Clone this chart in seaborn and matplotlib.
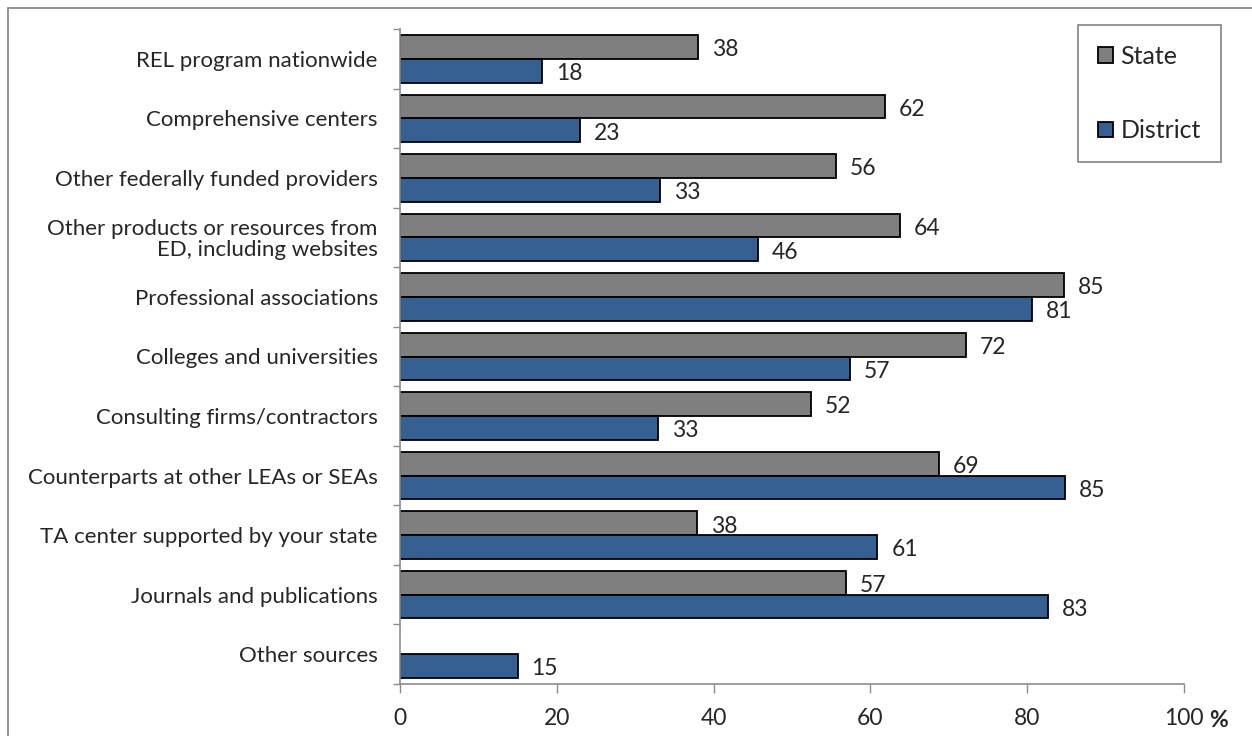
import numpy as np
import pandas as pd
import matplotlib
matplotlib.use('Agg')
import matplotlib.pyplot as plt
from matplotlib.patches import Rectangle, Patch
from matplotlib.ticker import FixedLocator
import seaborn as sns

# Datos
categorias = [
    'REL program nationwide',
    'Comprehensive centers',
    'Other federally funded providers',
    'Other products or resources from\nED, including websites',
    'Professional associations',
    'Colleges and universities',
    'Consulting firms/contractors',
    'Counterparts at other LEAs or SEAs',
    'TA center supported by your state',
    'Journals and publications',
    'Other sources',
]
state_pct = [38.0, 61.9, 55.6, 63.8, 84.7, 72.2, 52.4, 68.7, 37.9, 56.9, np.nan]
district_pct = [18.1, 22.9, 33.2, 45.7, 80.6, 57.4, 32.9, 84.8, 60.9, 82.6, 15.0]
grupos = ['State', 'District']
colores = {'State': '#7f7f7f', 'District': '#376092'}
x_ticks = [0, 20, 40, 60, 80, 100]

df = pd.DataFrame({
    'categoria': categorias * 2,
    'pct': state_pct + district_pct,
    'grupo': ['State'] * len(categorias) + ['District'] * len(categorias),
})

sns.set_style('white')
plt.rcParams['font.family'] = ['Lato', 'DejaVu Sans']

fig = plt.figure(figsize=(12.52, 7.36), dpi=100)
ax = fig.add_axes([400 / 1252, 1 - 684 / 736, 784 / 1252, 655 / 736])

sns.barplot(data=df, y='categoria', x='pct', hue='grupo', hue_order=grupos,
            order=categorias, orient='h', palette=colores, width=0.8,
            edgecolor='black', linewidth=1.3, saturation=1, legend=False, ax=ax)

for cont in ax.containers:
    etiquetas = ax.bar_label(cont, fmt='{:.0f}', padding=10, fontsize=16.5)
    for t in etiquetas:
        t.set_y(-2)

ax.set_xlim(0, 100)
ax.set_ylim(len(categorias) - 0.5, -0.5)
ax.set_xticks(x_ticks)
ax.set_xlabel('')
ax.set_ylabel('')
ax.yaxis.set_minor_locator(FixedLocator(np.arange(-0.5, len(categorias), 1.0)))
ax.tick_params(axis='y', which='major', length=0, pad=16, labelsize=16)
ax.tick_params(axis='y', which='minor', length=5, width=1, color='#8c8c8c', left=True)
ax.tick_params(axis='x', length=6.5, width=1, color='#8c8c8c', pad=11,
               labelsize=16.5, bottom=True)
for t in ax.get_yticklabels():
    t.set_linespacing(1.05)

for lado in ['top', 'right']:
    ax.spines[lado].set_visible(False)
for lado in ['left', 'bottom']:
    ax.spines[lado].set_color('#8c8c8c')
    ax.spines[lado].set_linewidth(1.2)

ax.annotate('%', xy=(1, 0), xycoords='axes fraction', xytext=(25, -26),
            textcoords='offset points', ha='center', va='center',
            fontsize=16.5, fontweight='bold')

handles = [Patch(facecolor=colores[g], edgecolor='black', linewidth=1.3, label=g)
           for g in grupos]
leg = ax.legend(handles=handles, loc='upper right',
                bbox_to_anchor=(1221 / 1252, 1 - 25 / 736),
                bbox_transform=fig.transFigure, fontsize=18, frameon=True,
                fancybox=False, framealpha=1, edgecolor='#8c8c8c',
                labelspacing=2.05, borderpad=0.8, handlelength=0.6,
                handleheight=0.6, handletextpad=0.3, borderaxespad=0)
leg.get_frame().set_linewidth(1.3)

# Marco exterior del gráfico
fig.patches.append(Rectangle((8 / 1252, -0.1), 2, 1.1 - 8 / 736,
                             transform=fig.transFigure, fill=False,
                             edgecolor='#8c8c8c', linewidth=1.3))

fig.savefig('out.png', dpi=100)
